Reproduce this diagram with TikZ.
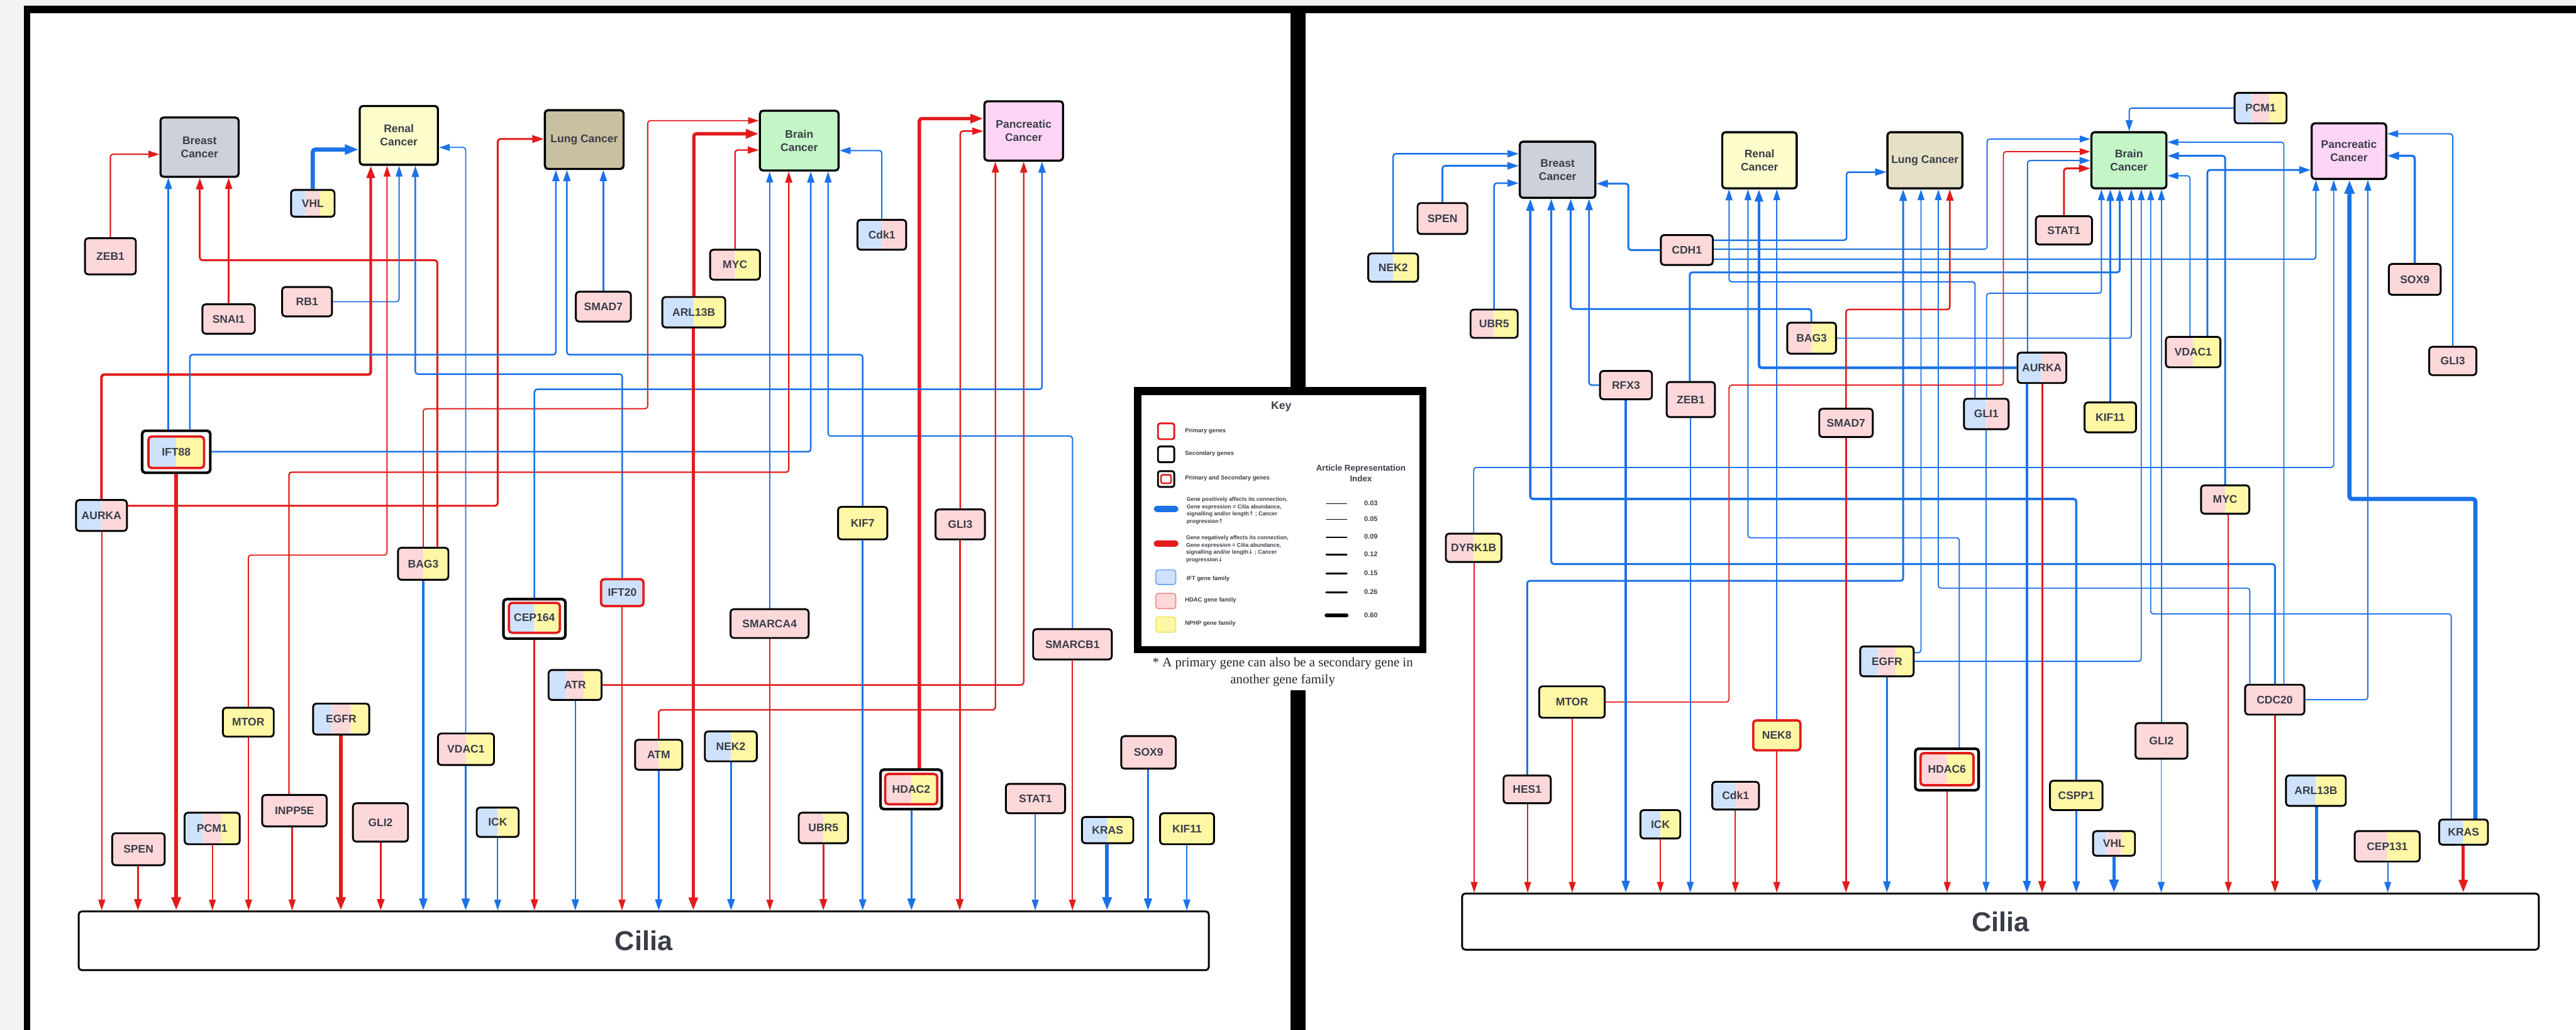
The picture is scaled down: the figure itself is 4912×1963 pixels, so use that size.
\documentclass[tikz,border=0pt]{standalone}
\usepackage{fontspec}
\setmainfont{Liberation Sans}
\newfontfamily\seriffam{Liberation Serif}
\newfontfamily\arrowfam{DejaVu Sans}
\usetikzlibrary{arrows.meta,calc}

\definecolor{cblue}{HTML}{1B72E8}
\definecolor{cred}{HTML}{E21C1C}
\definecolor{fblue}{HTML}{CFE2FC}
\definecolor{fpink}{HTML}{FDD8DA}
\definecolor{fyel}{HTML}{FDF7A6}
\definecolor{fgray}{HTML}{CDD2DA}
\definecolor{frenal}{HTML}{FDFCCB}
\definecolor{flungL}{HTML}{C9C0A1}
\definecolor{flungR}{HTML}{E6E0C7}
\definecolor{fbrain}{HTML}{C3F5C6}
\definecolor{fpanc}{HTML}{FDD6F6}
\definecolor{txt}{HTML}{3B3E48}
\definecolor{bggray}{HTML}{F3F3F3}
\definecolor{iftb}{HTML}{70A9F2}
\definecolor{hdacb}{HTML}{F08A8A}
\definecolor{nphpb}{HTML}{F4E25A}

\pgfdeclarelayer{panel}
\pgfdeclarelayer{edges}
\pgfsetlayers{panel,edges,main}

\newcommand\genefont{\fontsize{5.97}{7.11}\selectfont\bfseries}
\newcommand\ciliafont{\fontsize{14.8}{17}\selectfont\bfseries}
\newcommand\keytitlefont{\fontsize{5.97}{7}\selectfont\bfseries}
\newcommand\keyfont{\fontsize{3.2}{3.9}\selectfont\bfseries}
\newcommand\keyfontb{\fontsize{3.0}{3.9}\selectfont\bfseries}
\newcommand\arifont{\fontsize{4.55}{5.7}\selectfont\bfseries}
\newcommand\numfont{\fontsize{3.7}{4.4}\selectfont\bfseries}
\newcommand\footfont{\seriffam\fontsize{7.1}{9.1}\selectfont}
\newcommand\up{{\arrowfam\char"2191}}
\newcommand\down{{\arrowfam\char"2193}}

% straight connector from a gene down into a cilia box
\newcommand\cil[4]{\draw[#3] (#2,0 |- #1.south) -- (#2,0 |- #4.north);}

\tikzset{
  sz/.style 2 args={minimum width=#1*0.01cm, minimum height=#2*0.01cm},
  lw/.style={line width=#1*0.01cm},
  box/.style={draw=black, lw=3.5, rounded corners=0.06cm, inner sep=0pt,
    text=txt, font=\genefont, align=center},
  gene/.style={box},
  cancer/.style={box, lw=4},
  primary/.style={box, draw=cred, lw=4.5},
  outerbox/.style={box, lw=5, fill=white},
  innerbox/.style={box, draw=cred, lw=4.5},
  two/.style 2 args={path picture={
    \fill[#1] (path picture bounding box.south west) rectangle (path picture bounding box.north);
    \fill[#2] (path picture bounding box.south) rectangle (path picture bounding box.north east);}},
  three/.style n args={3}{path picture={
    \fill[#1] (path picture bounding box.south west) rectangle
      ($(path picture bounding box.north west)!0.3333!(path picture bounding box.north east)$);
    \fill[#2] ($(path picture bounding box.south west)!0.3333!(path picture bounding box.south east)$) rectangle
      ($(path picture bounding box.north west)!0.6667!(path picture bounding box.north east)$);
    \fill[#3] ($(path picture bounding box.south west)!0.6667!(path picture bounding box.south east)$) rectangle
      (path picture bounding box.north east);}},
  con/.style={rounded corners=0.05cm, -{Triangle[length=5.2pt 1, width=3.1pt 0.9]}},
  bl/.style={con, cblue, lw=#1},
  rd/.style={con, cred, lw=#1},
  keytxt/.style={font=\keyfont, text=txt, anchor=west, inner sep=0pt},
  keytxtb/.style={font=\keyfontb, text=txt, anchor=west, inner sep=0pt, align=left},
}

\begin{document}
\begin{tikzpicture}[x=0.01cm, y=-0.01cm]
\useasboundingbox (0,0) rectangle (4912,1963);

% frame and panels
\begin{pgfonlayer}{panel}
\fill[bggray] (0,0) rectangle (4912,1963);
\fill[black] (45,11) rectangle (4912,1963);
\fill[white] (57,25) rectangle (2461,1963);
\fill[white] (2489,25) rectangle (4912,1963);
\fill[white] (2455,1240) rectangle (2495,1315);
\end{pgfonlayer}

% ---------------- left network ----------------
\node[cancer, fill=fgray, sz={149}{113}] (breastL) at (380.5,280.5) {Breast\\Cancer};
\node[cancer, fill=frenal, sz={149}{112}] (renalL) at (760.5,258) {Renal\\Cancer};
\node[cancer, fill=flungL, sz={150}{112}] (lungL) at (1114,266) {Lung Cancer};
\node[cancer, fill=fbrain, sz={150}{114}] (brainL) at (1524,268) {Brain\\Cancer};
\node[cancer, fill=fpanc, sz={150}{113}] (pancL) at (1952,249.5) {Pancreatic\\Cancer};

\node[gene, three={fblue}{fpink}{fyel}, sz={83}{51}] (vhlL) at (596.5,387.5) {VHL};
\node[gene, fill=fpink, sz={97}{69}] (zeb1L) at (210.5,488.5) {ZEB1};
\node[gene, fill=fpink, sz={100}{56}] (snai1L) at (436,608) {SNAI1};
\node[gene, fill=fpink, sz={95}{56}] (rb1L) at (585.5,575) {RB1};
\node[outerbox, sz={130}{80}] (ift88L) at (336,861) {};
\node[innerbox, two={fblue}{fyel}, sz={106}{60}] (ift88Li) at (336,862) {IFT88};
\node[gene, two={fblue}{fpink}, sz={97}{59}] (aurkaL) at (193.5,982.5) {AURKA};
\node[gene, fill=fpink, sz={105}{57}] (smad7L) at (1150.5,584.5) {SMAD7};
\node[gene, two={fpink}{fyel}, sz={95}{57}] (mycL) at (1401.5,504.5) {MYC};
\node[gene, two={fblue}{fyel}, sz={120}{58}] (arl13bL) at (1323,595) {ARL13B};
\node[gene, two={fblue}{fpink}, sz={93}{57}] (cdk1L) at (1681.5,447.5) {Cdk1};
\node[gene, two={fpink}{fyel}, sz={96}{61}] (bag3L) at (807,1074.5) {BAG3};
\node[gene, fill=fyel, sz={97}{55}] (mtorL) at (473.5,1376.5) {MTOR};
\node[gene, three={fblue}{fpink}{fyel}, sz={107}{59}] (egfrL) at (650.5,1370.5) {EGFR};
\node[gene, fill=fpink, sz={100}{61}] (spenL) at (264,1618.5) {SPEN};
\node[gene, three={fblue}{fpink}{fyel}, sz={105}{60}] (pcm1L) at (404.5,1579) {PCM1};
\node[gene, fill=fpink, sz={123}{60}] (inpp5eL) at (561.5,1545) {INPP5E};
\node[gene, fill=fpink, sz={105}{73}] (gli2L) at (725.5,1567.5) {GLI2};
\node[gene, two={fpink}{fyel}, sz={107}{60}] (vdac1L) at (888.5,1428) {VDAC1};
\node[gene, two={fblue}{fyel}, sz={80}{56}] (ickL) at (949,1567) {ICK};
\node[outerbox, sz={118}{75}] (cep164L) at (1019,1179.5) {};
\node[innerbox, two={fblue}{fyel}, sz={97}{57}] (cep164Li) at (1019,1177.5) {CEP164};
\node[primary, fill=fblue, sz={81}{51}] (ift20L) at (1186.5,1129.5) {IFT20};
\node[gene, three={fblue}{fpink}{fyel}, sz={101}{57}] (atrL) at (1096.5,1305.5) {ATR};
\node[gene, fill=fpink, sz={149}{55}] (smarca4L) at (1467.5,1188.5) {SMARCA4};
\node[gene, two={fpink}{fyel}, sz={90}{57}] (atmL) at (1256,1438.5) {ATM};
\node[gene, two={fblue}{fyel}, sz={99}{57}] (nek2L) at (1393.5,1422.5) {NEK2};
\node[gene, two={fpink}{fyel}, sz={94}{58}] (ubr5L) at (1570,1578) {UBR5};
\node[gene, fill=fyel, sz={94}{62}] (kif7L) at (1645,997) {KIF7};
\node[gene, fill=fpink, sz={94}{57}] (gli3L) at (1831,999.5) {GLI3};
\node[outerbox, sz={117}{75}] (hdac2L) at (1737.5,1504.5) {};
\node[innerbox, two={fpink}{fyel}, sz={99}{58}] (hdac2Li) at (1737.5,1504) {HDAC2};
\node[gene, fill=fpink, sz={113}{56}] (stat1L) at (1974.5,1522) {STAT1};
\node[gene, fill=fpink, sz={150}{58}] (smarcb1L) at (2045,1228) {SMARCB1};
\node[gene, two={fblue}{fyel}, sz={98}{50}] (krasL) at (2112,1582) {KRAS};
\node[gene, fill=fpink, sz={104}{62}] (sox9L) at (2190,1434) {SOX9};
\node[gene, fill=fyel, sz={103}{59}] (kif11L) at (2263.5,1579.5) {KIF11};
\node[box, fill=white, sz={2155}{112}, font=\ciliafont] (ciliaL) at (1227.5,1793) {Cilia};

% ---------------- right network ----------------
\node[cancer, fill=fgray, sz={144}{107}] (breastR) at (2970,323.5) {Breast\\Cancer};
\node[cancer, fill=frenal, sz={142}{107}] (renalR) at (3355,305.5) {Renal\\Cancer};
\node[cancer, fill=flungR, sz={143}{107}] (lungR) at (3670.5,305.5) {Lung Cancer};
\node[cancer, fill=fbrain, sz={143}{107}] (brainR) at (4059.5,305.5) {Brain\\Cancer};
\node[cancer, fill=fpanc, sz={142}{106}] (pancR) at (4479,288) {Pancreatic\\Cancer};

\node[gene, three={fblue}{fpink}{fyel}, sz={99}{58}] (pcm1R) at (4310.5,206) {PCM1};
\node[gene, fill=fpink, sz={95}{59}] (spenR) at (2750.5,416.5) {SPEN};
\node[gene, two={fblue}{fyel}, sz={95}{54}] (nek2R) at (2656.5,510) {NEK2};
\node[gene, two={fpink}{fyel}, sz={90}{54}] (ubr5R) at (2849,617) {UBR5};
\node[gene, fill=fpink, sz={99}{57}] (cdh1R) at (3216.5,476.5) {CDH1};
\node[gene, fill=fpink, sz={99}{54}] (rfx3R) at (3100.5,734) {RFX3};
\node[gene, fill=fpink, sz={92}{67}] (zeb1R) at (3224,761.5) {ZEB1};
\node[gene, fill=fpink, sz={107}{54}] (stat1R) at (3935.5,439) {STAT1};
\node[gene, two={fpink}{fyel}, sz={93}{59}] (bag3R) at (3454.5,644.5) {BAG3};
\node[gene, fill=fpink, sz={102}{54}] (smad7R) at (3520,806) {SMAD7};
\node[gene, two={fblue}{fpink}, sz={85}{58}] (gli1R) at (3787.5,789) {GLI1};
\node[gene, two={fblue}{fpink}, sz={93}{58}] (aurkaR) at (3893.5,701) {AURKA};
\node[gene, fill=fyel, sz={98}{57}] (kif11R) at (4024,795.5) {KIF11};
\node[gene, two={fpink}{fyel}, sz={104}{58}] (vdac1R) at (4182,671) {VDAC1};
\node[gene, fill=fpink, sz={99}{59}] (sox9R) at (4604.5,532.5) {SOX9};
\node[gene, fill=fpink, sz={90}{54}] (gli3R) at (4677,688) {GLI3};
\node[gene, two={fpink}{fyel}, sz={92}{54}] (mycR) at (4243,952) {MYC};
\node[gene, two={fpink}{fyel}, sz={106}{54}] (dyrk1bR) at (2810,1044) {DYRK1B};
\node[gene, fill=fyel, sz={125}{60}] (mtorR) at (2997.5,1338) {MTOR};
\node[gene, fill=fpink, sz={90}{53}] (hes1R) at (2912,1504.5) {HES1};
\node[gene, two={fblue}{fyel}, sz={76}{54}] (ickR) at (3166,1571) {ICK};
\node[gene, two={fblue}{fpink}, sz={89}{53}] (cdk1R) at (3309.5,1516.5) {Cdk1};
\node[primary, fill=fyel, sz={90}{57}] (nek8R) at (3388,1401.5) {NEK8};
\node[gene, three={fblue}{fpink}{fyel}, sz={102}{57}] (egfrR) at (3598,1260.5) {EGFR};
\node[outerbox, sz={121}{79}] (hdac6R) at (3712.5,1466.5) {};
\node[innerbox, two={fpink}{fyel}, sz={101}{61}] (hdac6Ri) at (3712.5,1466) {HDAC6};
\node[gene, fill=fyel, sz={100}{56}] (cspp1R) at (3959,1516) {CSPP1};
\node[gene, three={fblue}{fpink}{fyel}, sz={80}{47}] (vhlR) at (4031,1607.5) {VHL};
\node[gene, fill=fpink, sz={99}{68}] (gli2R) at (4121.5,1412) {GLI2};
\node[gene, fill=fpink, sz={113}{57}] (cdc20R) at (4337.5,1333.5) {CDC20};
\node[gene, two={fblue}{fyel}, sz={114}{58}] (arl13bR) at (4416,1507) {ARL13B};
\node[gene, two={fpink}{fyel}, sz={124}{58}] (cep131R) at (4552,1613) {CEP131};
\node[gene, two={fblue}{fyel}, sz={93}{48}] (krasR) at (4697.5,1586) {KRAS};
\node[box, fill=white, sz={2053}{107}, font=\ciliafont] (ciliaR) at (3814.5,1756.5) {Cilia};

% ---------------- connectors ----------------
\begin{pgfonlayer}{edges}
% left: into the cancers
\draw[rd=2.5] (zeb1L.north) |- (breastL.west |- 0,294);
\draw[bl=3] (321,0 |- ift88L.north) -- (321,0 |- breastL.south);
\draw[rd=3.6] (834,0 |- bag3L.north) |- (381,496) -- (381,0 |- breastL.south);
\draw[rd=2.8] (snai1L.north) -- (snai1L.north |- breastL.south);
\draw[bl=8] (vhlL.north) |- (renalL.west |- 0,285);
\draw[bl=2.2] (rb1L.east) -| (761,0 |- renalL.south);
\draw[rd=5] (aurkaL.north) |- (707,714) -- (707,0 |- renalL.south);
\draw[rd=2.2] (mtorL.north) |- (738,1058) -- (738,0 |- renalL.south);
\draw[bl=3] (ift20L.north) |- (792,713) -- (792,0 |- renalL.south);
\draw[bl=2.2] (888,0 |- vdac1L.north) |- (renalL.east |- 0,281);
\draw[rd=3.6] (aurkaL.east |- 0,964) -| (949,265) -- (lungL.west |- 0,265);
\draw[bl=3] (362,0 |- ift88L.north) |- (1060,676) -- (1060,0 |- lungL.south);
\draw[bl=3] (kif7L.north) |- (1081,676) -- (1081,0 |- lungL.south);
\draw[bl=3] (smad7L.north) -- (smad7L.north |- lungL.south);
\draw[rd=2.2] (807,0 |- bag3L.north) |- (1235,779) |- (brainL.west |- 0,230);
\draw[rd=6.5] (arl13bL.north) |- (brainL.west |- 0,255);
\draw[rd=2.8] (mycL.north) |- (brainL.west |- 0,286);
\draw[bl=2.5] (cdk1L.north) |- (brainL.east |- 0,287);
\draw[bl=2.2] (smarca4L.north) -- (smarca4L.north |- brainL.south);
\draw[rd=2.8] (551,0 |- inpp5eL.north) |- (1504,900) -- (1504,0 |- brainL.south);
\draw[bl=3] (ift88L.east) -| (1546,0 |- brainL.south);
\draw[bl=2.5] (smarcb1L.north) |- (1579,831) -- (1579,0 |- brainL.south);
\draw[rd=6.5] (1753,0 |- hdac2L.north) |- (pancL.west |- 0,226);
\draw[rd=3] (gli3L.north) |- (pancL.west |- 0,250);
\draw[rd=2.8] (atmL.north) |- (1898,1353) -- (1898,0 |- pancL.south);
\draw[rd=2.8] (atrL.east) -| (1952,0 |- pancL.south);
\draw[bl=3] (cep164L.north) |- (1987,742) -- (1987,0 |- pancL.south);
% left: into cilia
\cil{aurkaL}{194}{rd=2.5}{ciliaL}
\cil{spenL}{263}{rd=3.6}{ciliaL}
\cil{ift88L}{336}{rd=7}{ciliaL}
\cil{pcm1L}{405}{rd=2.2}{ciliaL}
\cil{mtorL}{474}{rd=2.5}{ciliaL}
\cil{inpp5eL}{557}{rd=2.5}{ciliaL}
\cil{egfrL}{650}{rd=7}{ciliaL}
\cil{gli2L}{726}{rd=3.6}{ciliaL}
\cil{bag3L}{807}{bl=4.3}{ciliaL}
\cil{vdac1L}{888}{bl=4.3}{ciliaL}
\cil{ickL}{949}{bl=2.2}{ciliaL}
\cil{cep164L}{1019}{rd=3}{ciliaL}
\cil{atrL}{1097}{bl=3}{ciliaL}
\cil{ift20L}{1186}{rd=2.5}{ciliaL}
\cil{atmL}{1256}{bl=3}{ciliaL}
\cil{arl13bL}{1322}{rd=6.5}{ciliaL}
\cil{nek2L}{1394}{bl=3.6}{ciliaL}
\cil{smarca4L}{1468}{rd=2.2}{ciliaL}
\cil{ubr5L}{1570}{rd=3.6}{ciliaL}
\cil{kif7L}{1645}{bl=3}{ciliaL}
\cil{hdac2L}{1738}{bl=4.3}{ciliaL}
\cil{gli3L}{1830}{rd=3.6}{ciliaL}
\cil{stat1L}{1974}{bl=2.2}{ciliaL}
\cil{smarcb1L}{2045}{rd=2.2}{ciliaL}
\cil{krasL}{2111}{bl=7}{ciliaL}
\cil{sox9L}{2189}{bl=4.3}{ciliaL}
\cil{kif11L}{2263}{bl=2.5}{ciliaL}

% right: into the cancers
\draw[bl=3] (nek2R.north) |- (breastR.west |- 0,293);
\draw[bl=3.3] (spenR.north) |- (breastR.west |- 0,316);
\draw[bl=3] (ubr5R.north) |- (breastR.west |- 0,349);
\draw[bl=3.6] (cdh1R.west) -| (3105,350) -- (breastR.east |- 0,350);
\draw[bl=4.3] (cspp1R.north) |- (2918,951) -- (2918,0 |- breastR.south);
\draw[bl=3.6] (4338,0 |- cdc20R.north) |- (2958,1075) -- (2958,0 |- breastR.south);
\draw[bl=3.6] (3454,0 |- bag3R.north) |- (2995,589) -- (2995,0 |- breastR.south);
\draw[bl=3] (rfx3R.west) -| (3030,0 |- breastR.south);
\draw[bl=2.5] (3766,0 |- gli1R.north) |- (3297,537) -- (3297,0 |- renalR.south);
\draw[bl=2.2] (3736,0 |- hdac6R.north) |- (3333,1025) -- (3333,0 |- renalR.south);
\draw[bl=5] (aurkaR.west) -| (3354,0 |- renalR.south);
\draw[bl=2.2] (nek8R.north) -- (nek8R.north |- renalR.south);
\draw[bl=3] (cdh1R.east |- 0,458) -| (3521,328) -- (lungR.west |- 0,328);
\draw[bl=3.6] (hes1R.north) |- (3629,1107) -- (3629,0 |- lungR.south);
\draw[bl=2.2] (egfrR.east |- 0,1244) -| (3663,0 |- lungR.south);
\draw[bl=2.2] (4290,0 |- cdc20R.north) |- (3696,1121) -- (3696,0 |- lungR.south);
\draw[rd=3] (smad7R.north) |- (3718,590) -- (3718,0 |- lungR.south);
\draw[bl=2.5] (pcm1R.west) -| (4060,0 |- brainR.north);
\draw[bl=2.2] (cdh1R.east |- 0,475) -| (3789,265) -- (brainR.west |- 0,265);
\draw[rd=2.2] (mtorR.east) -| (3297,734) -| (3820,289) -- (brainR.west |- 0,289);
\draw[bl=2.5] (3866,0 |- aurkaR.north) |- (brainR.west |- 0,306);
\draw[rd=3.6] (stat1R.north) |- (brainR.west |- 0,321);
\draw[bl=2.2] (3788,0 |- gli1R.north) |- (4007,559) -- (4007,0 |- brainR.south);
\draw[bl=3.6] (kif11R.north) -- (kif11R.north |- brainR.south);
\draw[bl=3.6] (3222,0 |- zeb1R.north) |- (4042,519) -- (4042,0 |- brainR.south);
\draw[bl=2.2] (bag3R.east) -| (4064,0 |- brainR.south);
\draw[bl=2.2] (egfrR.east) -| (4083,0 |- brainR.south);
\draw[bl=2.2] (4674,0 |- krasR.north) |- (4101,1170) -- (4101,0 |- brainR.south);
\draw[bl=2.2] (gli2R.north) -- (gli2R.north |- brainR.south);
\draw[bl=2.2] (4355,0 |- cdc20R.north) |- (brainR.east |- 0,271);
\draw[bl=3.6] (mycR.north) |- (brainR.east |- 0,297);
\draw[bl=2.2] (4176,0 |- vdac1R.north) |- (brainR.east |- 0,335);
\draw[bl=3.6] (4209,0 |- vdac1R.north) |- (pancR.west |- 0,324);
\draw[bl=2.5] (gli3R.north) |- (pancR.east |- 0,255);
\draw[bl=4.3] (sox9R.north) |- (pancR.east |- 0,297);
\draw[bl=2.5] (cdh1R.east |- 0,494) -| (4416,0 |- pancR.south);
\draw[bl=2.2] (dyrk1bR.north) |- (4450,891) -- (4450,0 |- pancR.south);
\draw[bl=8] (4720,0 |- krasR.north) |- (4480,951) -- (4480,0 |- pancR.south);
\draw[bl=2.2] (cdc20R.east) -| (4515,0 |- pancR.south);
% right: into cilia
\cil{dyrk1bR}{2811}{rd=2.2}{ciliaR}
\cil{hes1R}{2913}{rd=2.2}{ciliaR}
\cil{mtorR}{2998}{rd=2.2}{ciliaR}
\cil{rfx3R}{3100}{bl=4.3}{ciliaR}
\cil{ickR}{3166}{rd=2.2}{ciliaR}
\cil{zeb1R}{3223}{bl=2.2}{ciliaR}
\cil{cdk1R}{3309}{rd=2.2}{ciliaR}
\cil{nek8R}{3388}{rd=2.2}{ciliaR}
\cil{smad7R}{3520}{rd=3.3}{ciliaR}
\cil{egfrR}{3598}{bl=3.3}{ciliaR}
\cil{hdac6R}{3713}{rd=2.2}{ciliaR}
\cil{gli1R}{3787}{bl=2.2}{ciliaR}
\cil{aurkaR}{3865}{bl=4}{ciliaR}
\cil{aurkaR}{3894}{rd=3.6}{ciliaR}
\cil{cspp1R}{3959}{bl=3.3}{ciliaR}
\cil{vhlR}{4031}{bl=6.5}{ciliaR}
\cil{gli2R}{4121}{bl=2.2}{ciliaR}
\cil{mycR}{4249}{rd=2.2}{ciliaR}
\cil{cdc20R}{4338}{rd=3.6}{ciliaR}
\cil{arl13bR}{4417}{bl=6}{ciliaR}
\cil{cep131R}{4553}{bl=2.2}{ciliaR}
\cil{krasR}{4697}{rd=6}{ciliaR}
\end{pgfonlayer}

% ---------------- key ----------------
\fill[black] (2162,738) rectangle (2720,1245);
\fill[white] (2177,753) rectangle (2706,1231);
\node[font=\keytitlefont, text=txt] (keyT) at (2443,775) {Key};
\draw[cred, lw=3.5, rounded corners=0.04cm, fill=white] (2208,807) rectangle (2239,837);
\draw[black, lw=3.5, rounded corners=0.04cm] (2208,851) rectangle (2239,881);
\draw[black, lw=3.5, rounded corners=0.04cm] (2208,898) rectangle (2239,928);
\draw[cred, lw=3, rounded corners=0.03cm] (2214,905) rectangle (2233,921);
\fill[cblue, rounded corners=0.06cm] (2200,964) rectangle (2247,976);
\fill[cred, rounded corners=0.06cm] (2200,1030) rectangle (2247,1042);
\draw[iftb, fill=fblue, lw=2, rounded corners=0.05cm] (2204,1086) rectangle (2242,1114);
\draw[hdacb, fill=fpink, lw=2, rounded corners=0.05cm] (2204,1131) rectangle (2242,1160);
\draw[nphpb, fill=fyel, lw=2, rounded corners=0.05cm] (2204,1176) rectangle (2242,1205);
\node[keytxt] (kPrim) at (2259,821) {Primary genes};
\node[keytxt] (kSec) at (2259,865) {Secondary genes};
\node[keytxt] (kBoth) at (2259,911) {Primary and Secondary genes};
\node[keytxtb] (kPos) at (2262,973.5) {Gene positively affects its connection,\\Gene expression = Cilia abundance,\\signalling and/or length\up\ ; Cancer\\progression\up};
\node[keytxtb] (kNeg) at (2261,1046.5) {Gene negatively affects its connection,\\Gene expression = Cilia abundance,\\signalling and/or length\down\ ; Cancer\\progression\down};
\node[keytxt] (kIft) at (2262,1103) {IFT gene family};
\node[keytxt] (kHdac) at (2259,1144) {HDAC gene family};
\node[keytxt] (kNphp) at (2259,1188) {NPHP gene family};
\node[font=\arifont, text=txt, align=center] (kAri) at (2595,902) {Article Representation\\Index};
\foreach \yy/\ww/\lab [count=\i] in {960/1.3/0.03, 990/1.7/0.05, 1024/2.1/0.09, 1057/2.6/0.12, 1093/3.2/0.15, 1129/4.5/0.26, 1173/6.5/0.60} {
  \draw[black, lw=\ww, line cap=round] (2529,\yy) -- (2568,\yy);
  \node[font=\numfont, text=txt] (kn\i) at (2614,\yy-1) {\lab};
}
\node[font=\footfont, text=black!85, align=center] (fnote) at (2446,1281) {* A primary gene can also be a secondary gene in\\another gene family};
\end{tikzpicture}
\end{document}
